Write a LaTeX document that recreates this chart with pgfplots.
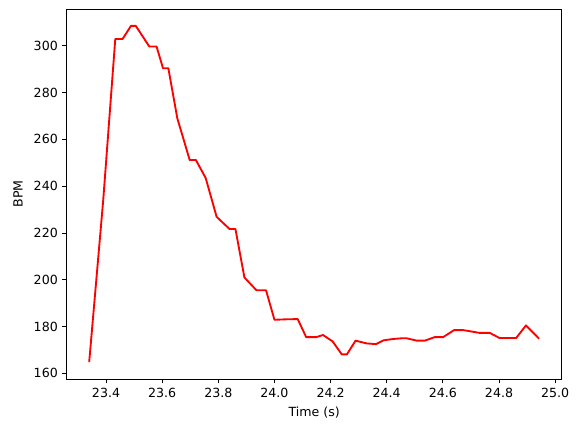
\documentclass[border=0pt]{standalone}
\usepackage{pgfplots}
\pgfplotsset{compat=1.18}
\usepackage{fontspec}
\setmainfont{DejaVu Sans}
\begin{document}
\fontsize{9.45}{11}\selectfont
\begin{tikzpicture}
\useasboundingbox (-50pt,-39.75pt) rectangle (385pt,284.25pt);
\begin{axis}[
  at={(0,0)}, anchor=south west,
  scale only axis,
  width=371.25pt, height=277.5pt,
  xmin=23.2598, xmax=25.0232,
  ymin=157.6, ymax=315.7,
  xtick={23.4,23.6,23.8,24.0,24.2,24.4,24.6,24.8,25.0},
  ytick={160,180,200,220,240,260,280,300},
  xticklabel style={/pgf/number format/.cd, fixed, fixed zerofill, precision=1},
  /pgf/number format/assume math mode=true,
  tick align=outside,
  tick pos=left,
  major tick length=3.3pt,
  every tick/.style={black, line width=0.6pt},
  axis line style={line width=0.6pt},
  xlabel={Time (s)},
  ylabel={BPM},
  xlabel style={at={([yshift=-25.5pt]axis description cs:0.5,0)}, anchor=center},
  ylabel style={at={([xshift=-36.5pt]axis description cs:0,0.5)}, anchor=center},
  tick label style={font=\fontsize{9.45}{11}\selectfont},
  label style={font=\fontsize{9.45}{11}\selectfont},
]
\addplot[red, line width=1.4pt, line join=round] coordinates {
(23.340,164.8)
(23.390,234)
(23.433,302.9)
(23.459,302.9)
(23.489,308.5)
(23.506,308.5)
(23.554,299.7)
(23.580,299.7)
(23.603,290.4)
(23.622,290.4)
(23.654,269)
(23.698,251.2)
(23.720,251.2)
(23.755,243.5)
(23.794,226.9)
(23.840,221.7)
(23.861,221.7)
(23.893,201)
(23.936,195.5)
(23.970,195.5)
(24.000,182.9)
(24.040,183.1)
(24.083,183.2)
(24.113,175.5)
(24.149,175.5)
(24.173,176.4)
(24.207,173.7)
(24.240,168.1)
(24.258,168.1)
(24.289,174)
(24.329,172.8)
(24.362,172.5)
(24.388,174.1)
(24.423,174.7)
(24.453,175)
(24.471,175)
(24.507,174)
(24.536,174)
(24.571,175.5)
(24.601,175.5)
(24.640,178.5)
(24.672,178.5)
(24.731,177.3)
(24.767,177.3)
(24.802,175.1)
(24.861,175.1)
(24.896,180.5)
(24.943,174.8)
};
\end{axis}
\end{tikzpicture}
\end{document}
